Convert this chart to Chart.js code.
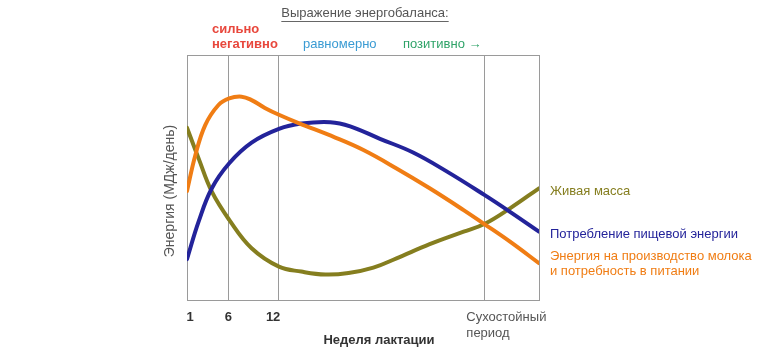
<!DOCTYPE html>
<html><head><meta charset="utf-8">
<script src="https://cdn.jsdelivr.net/npm/chart.js@4.4.1/dist/chart.umd.min.js"></script>
<style>html,body{margin:0;padding:0;background:#fff}#wrap{width:772px;height:355px}</style>
</head><body><div id="wrap"><canvas id="c" width="772" height="355"></canvas></div>
<script>
// ---- data ----
const weekMin = 1, weekMax = 43.5;
const tickWeeks = [1, 6, 12, 36.9];
const tickLabels = ['1', '6', '12', 'Сухостойный\nпериод'];

const milkWeeks = [1, 2, 3.2, 4.8, 6.1, 7.6, 8.8, 10.4, 12.1, 14.4, 18.9, 22.3, 26.3, 30.3, 34.4, 36.9, 40, 43.5];
const milkEnergy = [44.5, 59, 71.4, 79.6, 82.3, 83, 81.6, 78.4, 75.6, 72.3, 66.3, 61.2, 53.7, 45.6, 36.7, 31, 23.8, 15];

const intakeWeeks = [1, 2.4, 4, 6.1, 8.8, 12.1, 14.8, 18.3, 20.7, 24.3, 28.3, 32.4, 36.9, 40, 43.5];
const intakeEnergy = [16.7, 32, 45.6, 55.8, 64.2, 69.8, 72, 72.6, 70.9, 65.8, 60.2, 52.4, 42.9, 36, 27.9];

const massWeeks = [1, 2.4, 4, 6.1, 8.8, 12.1, 14.8, 17.7, 20.5, 23.5, 26.3, 30.3, 34.4, 36.9, 40, 43.5];
const bodyMass = [70.3, 57.8, 44.2, 32.7, 21.1, 13.6, 11.6, 10.4, 11, 13.2, 17, 22.8, 27.9, 31, 37.4, 45.6];

const seriesNames = ['Живая масса', 'Потребление пищевой энергии', 'Энергия на производство молока\nи потребность в питании'];
const title = 'Выражение энергобаланса:';
const phaseLabels = ['сильно\nнегативно', 'равномерно', 'позитивно →'];
const xTitle = 'Неделя лактации';
const yTitle = 'Энергия (МДж/день)';

const C_OLIVE = '#857e1f', C_NAVY = '#23239a', C_ORANGE = '#f07d14';
const FONT = '"Liberation Sans", Arial, sans-serif';

function pts(xs, ys){ return xs.map((x,i)=>({x:x, y:ys[i]})); }

const textPlugin = {
  id: 'texts',
  afterDraw(chart){
    const ctx = chart.ctx, xs = chart.scales.x, a = chart.chartArea;
    ctx.save();
    ctx.textBaseline = 'middle';
    // title
    ctx.font = '13px ' + FONT; ctx.fillStyle = '#555'; ctx.textAlign = 'center';
    const tx = 365, ty = 13;
    ctx.fillText(title, tx, ty);
    const tw = ctx.measureText(title).width;
    ctx.strokeStyle = '#666'; ctx.lineWidth = 1;
    ctx.beginPath(); ctx.moveTo(tx - tw/2, ty + 8.5); ctx.lineTo(tx + tw/2, ty + 8.5); ctx.stroke();
    // phase labels
    ctx.textAlign = 'left';
    ctx.font = 'bold 13px ' + FONT; ctx.fillStyle = '#e8473c';
    const ph0 = phaseLabels[0].split('\n');
    ctx.fillText(ph0[0], 212, 29); ctx.fillText(ph0[1], 212, 44);
    ctx.font = '13px ' + FONT; ctx.fillStyle = '#3a9bd3';
    ctx.fillText(phaseLabels[1], 303, 44);
    ctx.fillStyle = '#2fa368';
    ctx.fillText(phaseLabels[2], 403, 44);
    // y title
    ctx.save();
    ctx.translate(170, 191); ctx.rotate(-Math.PI/2);
    ctx.textAlign = 'center'; ctx.font = '14px ' + FONT; ctx.fillStyle = '#555';
    ctx.fillText(yTitle, 0, 0);
    ctx.restore();
    // x tick labels
    ctx.fillStyle = '#333'; ctx.font = 'bold 13px ' + FONT; ctx.textAlign = 'center';
    for (let i = 0; i < 3; i++) {
      const px = xs.getPixelForValue(tickWeeks[i]);
      ctx.fillText(tickLabels[i], px + (i===0?3:(i===2?-5:0)), 317);
    }
    ctx.font = '13px ' + FONT; ctx.fillStyle = '#555'; ctx.textAlign = 'left';
    const dl = tickLabels[3].split('\n');
    const dx = xs.getPixelForValue(tickWeeks[3]) - 18;
    ctx.fillText(dl[0], dx, 317); ctx.fillText(dl[1], dx, 333);
    // x title
    ctx.font = 'bold 13px ' + FONT; ctx.fillStyle = '#333'; ctx.textAlign = 'center';
    ctx.fillText(xTitle, 379, 340);
    // series labels
    ctx.font = '13px ' + FONT; ctx.textAlign = 'left';
    const lx = a.right + 11;
    ctx.fillStyle = C_OLIVE; ctx.fillText(seriesNames[0], lx, 191);
    ctx.fillStyle = C_NAVY; ctx.fillText(seriesNames[1], lx, 234);
    const s3 = seriesNames[2].split('\n');
    ctx.fillStyle = C_ORANGE; ctx.fillText(s3[0], lx, 256); ctx.fillText(s3[1], lx, 271);
    ctx.restore();
  }
};

new Chart(document.getElementById('c'), {
  type: 'line',
  data: {
    datasets: [
      { label: seriesNames[2], data: pts(milkWeeks, milkEnergy), borderColor: C_ORANGE },
      { label: seriesNames[1], data: pts(intakeWeeks, intakeEnergy), borderColor: C_NAVY },
      { label: seriesNames[0], data: pts(massWeeks, bodyMass), borderColor: C_OLIVE }
    ].map(d => Object.assign(d, { borderWidth: 4, pointRadius: 0, tension: 0.4, fill: false, borderCapStyle: 'round', borderJoinStyle: 'round' }))
  },
  options: {
    responsive: false, animation: false, devicePixelRatio: 1,
    layout: { padding: { left: 187, right: 233, top: 55, bottom: 55 } },
    plugins: { legend: { display: false }, tooltip: { enabled: false } },
    scales: {
      x: {
        type: 'linear', min: weekMin, max: weekMax,
        afterBuildTicks: s => { s.ticks = tickWeeks.concat([weekMax]).map(v => ({ value: v })); },
        ticks: { display: false },
        grid: { color: '#9a9a9a', lineWidth: 1, drawTicks: false },
        border: { color: '#9a9a9a', width: 1 }
      },
      y: {
        min: 0, max: 100,
        afterBuildTicks: s => { s.ticks = [0, 100].map(v => ({ value: v })); },
        ticks: { display: false },
        grid: { color: '#9a9a9a', lineWidth: 1, drawTicks: false },
        border: { color: '#9a9a9a', width: 1 }
      }
    }
  },
  plugins: [textPlugin]
});
</script></body></html>
